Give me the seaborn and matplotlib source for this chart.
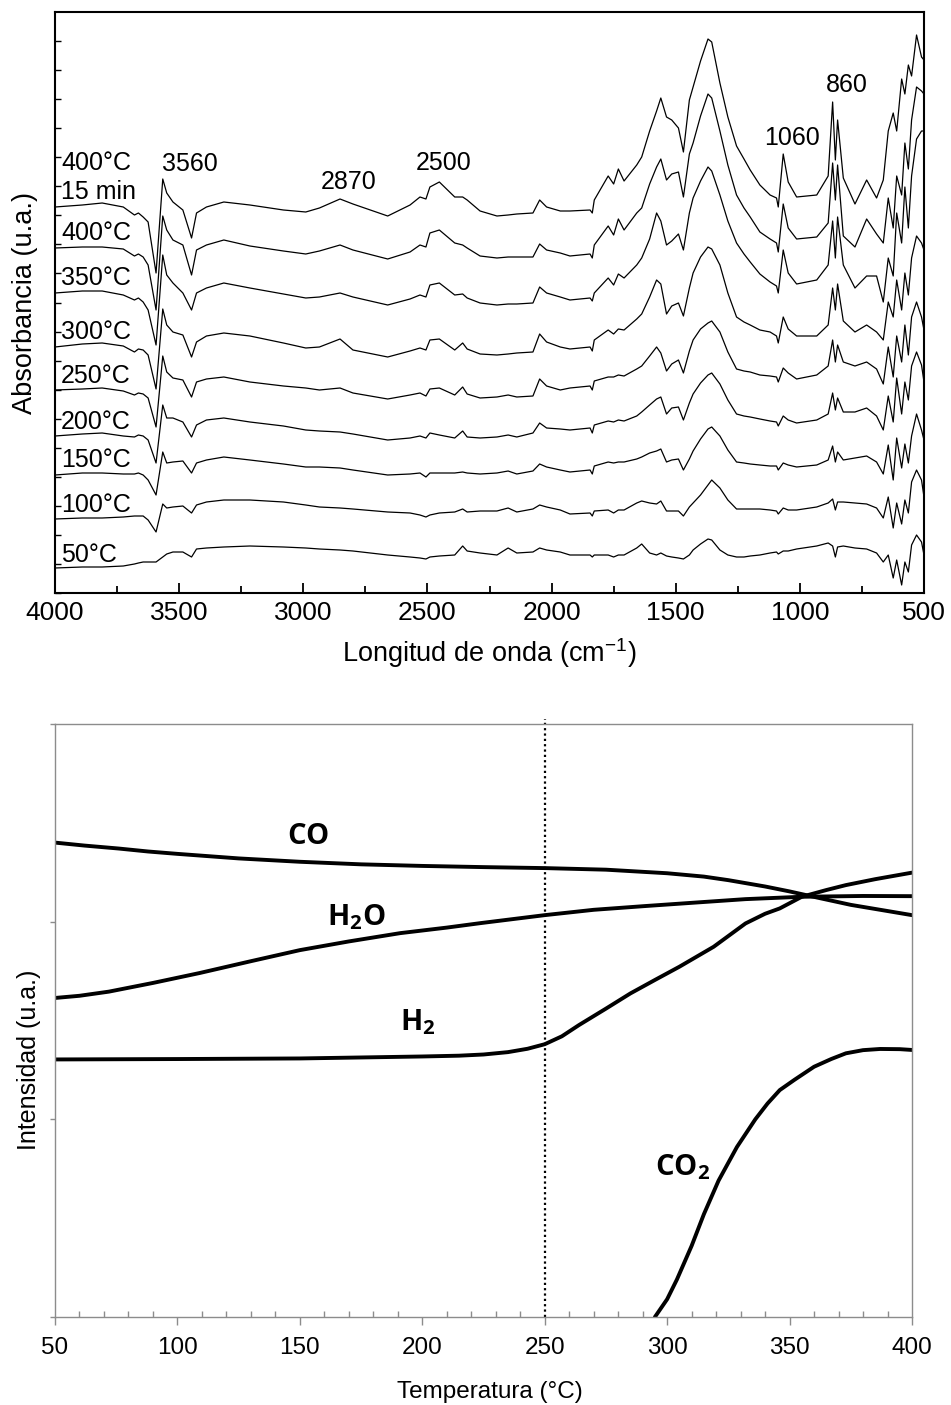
import numpy as np
import pandas as pd
import matplotlib
matplotlib.use("Agg")
import matplotlib.pyplot as plt
from matplotlib.ticker import MultipleLocator
import seaborn as sns

# ---------------- data: top panel (DRIFT spectra, stacked, u.a.) ----------------
WAVENUMBER = [4000, 3890, 3810, 3725, 3680, 3664, 3645, 3625, 3593, 3566,
              3550, 3525, 3485, 3450, 3430, 3390, 3320, 3215, 3080, 2990,
              2935, 2852, 2800, 2660, 2570, 2530, 2506, 2490, 2452, 2390,
              2358, 2340, 2288, 2220, 2175, 2140, 2075, 2048, 2020, 1965,
              1926, 1845, 1836, 1828, 1772, 1750, 1731, 1708, 1657, 1637,
              1605, 1577, 1560, 1537, 1516, 1489, 1469, 1445, 1430, 1400,
              1370, 1355, 1322, 1290, 1255, 1225, 1200, 1161, 1120, 1094,
              1087, 1067, 1047, 1013, 932, 886, 868, 857, 848, 825,
              778, 731, 691, 664, 644, 624, 610, 590, 577, 563,
              550, 530, 510, 500]

SPEC_400_15MIN = [386, 388, 390, 386, 378, 380, 376, 371, 320, 414,
                  400, 391, 383, 355, 380, 386, 391, 388, 383, 381,
                  385, 394, 389, 377, 388, 396, 394, 406, 411, 396,
                  396, 393, 382, 377, 378, 379, 380, 393, 386, 382,
                  382, 383, 380, 393, 417, 409, 424, 412, 428, 436,
                  462, 482, 495, 476, 473, 465, 441, 493, 506, 532,
                  554, 551, 510, 476, 447, 434, 423, 408, 398, 395,
                  386, 439, 411, 396, 398, 417, 491, 433, 473, 415,
                  389, 413, 395, 413, 462, 480, 462, 514, 499, 528,
                  517, 558, 536, 533]
SPEC_400 = [345, 346, 346, 344, 337, 339, 336, 328, 283, 377,
            363, 353, 348, 318, 343, 348, 353, 347, 342, 339,
            342, 348, 343, 334, 341, 348, 346, 360, 363, 350,
            348, 345, 337, 335, 336, 336, 336, 349, 343, 340,
            337, 339, 335, 348, 367, 358, 374, 363, 380, 385,
            409, 426, 434, 413, 419, 421, 396, 439, 450, 477,
            499, 495, 462, 428, 398, 385, 376, 361, 354, 350,
            341, 389, 365, 354, 356, 370, 430, 393, 428, 357,
            346, 374, 359, 350, 395, 365, 417, 398, 450, 424,
            473, 506, 502, 499]
SPEC_350 = [300, 302, 302, 298, 293, 295, 291, 283, 248, 338,
            318, 310, 300, 283, 300, 305, 310, 305, 299, 295,
            296, 300, 296, 288, 294, 298, 296, 308, 310, 298,
            299, 295, 290, 288, 289, 289, 290, 306, 300, 296,
            293, 295, 292, 300, 315, 308, 319, 315, 328, 335,
            354, 380, 372, 348, 352, 359, 343, 380, 395, 412,
            426, 422, 398, 372, 350, 339, 331, 319, 311, 307,
            300, 343, 320, 309, 313, 328, 372, 335, 376, 328,
            305, 317, 317, 291, 335, 317, 380, 350, 406, 365,
            417, 454, 462, 462]
SPEC_300 = [246, 249, 250, 247, 241, 244, 243, 238, 204, 284,
            268, 261, 258, 236, 251, 257, 260, 257, 250, 245,
            246, 254, 243, 236, 242, 245, 243, 253, 254, 243,
            250, 244, 239, 238, 239, 240, 241, 259, 251, 246,
            244, 246, 242, 253, 263, 259, 264, 263, 274, 279,
            296, 313, 309, 279, 287, 290, 277, 305, 320, 336,
            346, 344, 328, 300, 276, 271, 268, 263, 261, 257,
            250, 276, 264, 257, 257, 268, 305, 283, 309, 272,
            261, 268, 261, 253, 291, 276, 313, 283, 320, 298,
            335, 357, 350, 343]
SPEC_250 = [203, 204, 205, 202, 198, 200, 199, 195, 166, 237,
            221, 215, 213, 196, 211, 214, 216, 211, 207, 205,
            203, 205, 200, 194, 198, 200, 197, 204, 205, 198,
            206, 199, 195, 196, 198, 196, 197, 214, 207, 203,
            205, 207, 203, 212, 216, 216, 218, 217, 224, 227,
            237, 246, 240, 222, 229, 233, 220, 242, 253, 264,
            270, 272, 261, 241, 224, 222, 221, 218, 217, 216,
            211, 225, 220, 214, 218, 227, 253, 231, 248, 231,
            227, 231, 224, 209, 246, 216, 257, 231, 268, 238,
            276, 291, 276, 263]
SPEC_200 = [157, 159, 160, 157, 156, 158, 157, 153, 130, 188,
            175, 175, 171, 156, 168, 173, 175, 171, 167, 163,
            162, 161, 159, 153, 155, 157, 155, 160, 158, 155,
            162, 156, 155, 156, 158, 156, 160, 170, 165, 164,
            163, 165, 160, 168, 172, 171, 173, 172, 177, 181,
            188, 194, 196, 179, 185, 186, 173, 190, 199, 210,
            218, 220, 209, 193, 179, 177, 176, 174, 172, 171,
            167, 177, 173, 170, 173, 179, 200, 183, 195, 181,
            181, 185, 177, 163, 197, 171, 215, 179, 211, 193,
            227, 241, 228, 211]
SPEC_150 = [118, 120, 120, 119, 119, 120, 118, 113, 98, 141,
            130, 131, 132, 120, 130, 133, 136, 133, 129, 126,
            126, 125, 123, 118, 119, 120, 116, 120, 120, 120,
            121, 120, 119, 120, 122, 119, 122, 129, 126, 123,
            121, 123, 119, 127, 131, 130, 131, 131, 134, 136,
            140, 142, 144, 131, 133, 134, 123, 134, 142, 154,
            164, 166, 157, 143, 131, 130, 129, 128, 127, 127,
            123, 130, 128, 126, 128, 133, 147, 131, 141, 133,
            135, 137, 131, 119, 148, 113, 155, 125, 149, 130,
            157, 179, 163, 153]
SPEC_100 = [74, 75, 75, 76, 77, 77, 77, 73, 61, 89,
            85, 86, 87, 80, 88, 91, 93, 93, 91, 88,
            86, 85, 84, 81, 80, 78, 76, 78, 80, 81,
            84, 81, 82, 82, 85, 81, 84, 88, 86, 83,
            79, 80, 77, 82, 83, 80, 83, 83, 90, 92,
            90, 89, 92, 82, 82, 82, 77, 86, 90, 98,
            108, 113, 105, 93, 84, 84, 84, 84, 83, 82,
            79, 85, 83, 83, 86, 90, 94, 83, 91, 91,
            90, 89, 85, 75, 96, 65, 90, 69, 93, 80,
            111, 123, 113, 96]
SPEC_50 = [25, 26, 26, 27, 29, 30, 31, 31, 31, 36,
           39, 41, 41, 36, 44, 45, 46, 47, 46, 45,
           44, 43, 42, 38, 36, 35, 34, 36, 37, 38,
           47, 42, 40, 38, 45, 40, 41, 45, 43, 41,
           38, 38, 36, 38, 38, 36, 38, 38, 45, 49,
           40, 38, 40, 37, 36, 35, 34, 38, 43, 49,
           54, 53, 43, 38, 36, 36, 37, 38, 40, 41,
           39, 42, 42, 44, 47, 50, 47, 36, 46, 47,
           45, 44, 40, 31, 38, 15, 33, 8, 31, 21,
           48, 58, 51, 38]

SPECTRA = [SPEC_400_15MIN, SPEC_400, SPEC_350, SPEC_300, SPEC_250,
           SPEC_200, SPEC_150, SPEC_100, SPEC_50]
SPECTRA_NAMES = ["400°C 15 min", "400°C", "350°C", "300°C", "250°C",
                 "200°C", "150°C", "100°C", "50°C"]
for s in SPECTRA:
    assert len(s) == len(WAVENUMBER)

SPEC_LABELS = ["400°C", "15 min", "400°C", "350°C", "300°C", "250°C",
               "200°C", "150°C", "100°C", "50°C"]
SPEC_LABEL_Y = [430, 401, 360, 315, 261, 217, 171, 133, 88, 38]
BAND_LABELS = ["3560", "2870", "2500", "1060", "860"]
BAND_X = [3456, 2819, 2436, 1031, 812]
BAND_Y = [429, 411, 430, 455, 508]

# ---------------- data: bottom panel (mass spec signals, u.a.) ----------------
CO_T = [50, 62, 76, 88, 100, 125, 150, 175, 200, 225, 250, 275, 300, 315,
        325, 340, 350, 362, 375, 388, 400]
CO_I = [2.40, 2.385, 2.37, 2.355, 2.343, 2.32, 2.303, 2.29, 2.282, 2.276,
        2.271, 2.263, 2.245, 2.228, 2.21, 2.178, 2.153, 2.12, 2.085, 2.058, 2.033]
H2O_T = [50, 60, 72, 90, 109, 130, 150, 170, 191, 210, 224, 250, 270, 291,
         312, 332, 355, 380, 400]
H2O_I = [1.614, 1.625, 1.646, 1.69, 1.74, 1.80, 1.856, 1.90, 1.942, 1.97,
         1.993, 2.033, 2.06, 2.079, 2.097, 2.114, 2.126, 2.13, 2.129]
H2_T = [50, 100, 150, 200, 215, 225, 235, 243, 250, 257, 264, 275, 285, 295,
        305, 319, 332, 340, 346, 355, 365, 373, 385, 400]
H2_I = [1.303, 1.305, 1.308, 1.318, 1.322, 1.328, 1.34, 1.357, 1.38, 1.42,
        1.477, 1.56, 1.637, 1.705, 1.772, 1.873, 1.991, 2.04, 2.067, 2.126,
        2.16, 2.185, 2.215, 2.248]
CO2_T = [295, 300, 304, 310, 315, 321, 328.5, 336, 341, 346, 352, 360, 367,
         373, 380, 387, 395, 400]
CO2_I = [0.0, 0.09, 0.19, 0.36, 0.52, 0.69, 0.86, 1.00, 1.08, 1.148, 1.20,
         1.266, 1.305, 1.334, 1.35, 1.356, 1.355, 1.351]
REACTION_T = 250

GAS_LABELS = [r"$\mathbf{CO}$", r"$\mathbf{H_2O}$", r"$\mathbf{H_2}$", r"$\mathbf{CO_2}$"]
GAS_LABEL_T = [144.6, 161, 191, 295]
GAS_LABEL_I = [2.393, 1.983, 1.452, 0.718]

# ---------------- style ----------------
sns.set_style("ticks")
plt.rcParams["font.family"] = ["Liberation Sans", "DejaVu Sans"]
plt.rcParams["mathtext.fontset"] = "custom"
plt.rcParams["mathtext.rm"] = "Liberation Sans"
plt.rcParams["mathtext.it"] = "Liberation Sans:italic"
plt.rcParams["mathtext.bf"] = "Open Sans:bold"
plt.rcParams["text.color"] = "black"
plt.rcParams["axes.labelcolor"] = "black"
plt.rcParams["xtick.color"] = "black"
plt.rcParams["ytick.color"] = "black"

W, H = 951, 1405
fig = plt.figure(figsize=(W / 100, H / 100), dpi=100)
ax1 = fig.add_axes([55 / W, 1 - 593 / H, 869 / W, 581 / H])
ax2 = fig.add_axes([55 / W, 1 - 1317 / H, 857 / W, 593 / H])

# ---------------- top panel ----------------
rows = []
for name, vals in zip(SPECTRA_NAMES, SPECTRA):
    for w, a in zip(WAVENUMBER, vals):
        rows.append({"spectrum": name, "wavenumber": w, "absorbance": a})
df = pd.DataFrame(rows)
sns.lineplot(data=df, x="wavenumber", y="absorbance", units="spectrum",
             estimator=None, sort=False, color="black", lw=0.9, ax=ax1,
             legend=False)
ax1.set_xlim(4000, 500)
ax1.set_ylim(0, 581)
ax1.set_xticks(np.arange(4000, 499, -500))
ax1.set_xticklabels([str(v) for v in np.arange(4000, 499, -500)])
ax1.xaxis.set_minor_locator(MultipleLocator(250))
ax1.set_yticks(np.arange(0, 580, 29.05))
ax1.set_yticklabels([])
ax1.tick_params(axis="x", which="major", direction="in", length=7, width=1.3,
                labelsize=19, pad=6, colors="black")
ax1.tick_params(axis="x", which="minor", direction="in", length=5, width=1.3)
ax1.tick_params(axis="y", which="major", direction="in", length=4, width=1.0)
for sp in ax1.spines.values():
    sp.set_linewidth(1.5)
    sp.set_color("black")
ax1.set_xlabel("")
ax1.set_ylabel("")
for t, y in zip(SPEC_LABELS, SPEC_LABEL_Y):
    ax1.text(3976, y, t, ha="left", va="center", fontsize=18, color="black")
for t, x, y in zip(BAND_LABELS, BAND_X, BAND_Y):
    ax1.text(x, y, t, ha="center", va="center", fontsize=18, color="black")

fig.text(25 / W, 1 - 302.5 / H, "Absorbancia (u.a.)", rotation=90,
         ha="center", va="center", fontsize=19.5, color="black")
fig.text(489.5 / W, 1 - 653 / H, r"Longitud de onda (cm$^{-1}$)",
         ha="center", va="center", fontsize=19.5, color="black")

# ---------------- bottom panel ----------------
for T, I in [(CO_T, CO_I), (H2O_T, H2O_I), (H2_T, H2_I), (CO2_T, CO2_I)]:
    sns.lineplot(x=T, y=I, color="black", lw=2.8, ax=ax2, sort=False,
                 estimator=None)
ax2.axvline(REACTION_T, ymin=0, ymax=1.008, color="black", lw=1.6,
            ls=(0, (1, 1.4)), clip_on=False)
ax2.set_xlim(50, 400)
ax2.set_ylim(0, 3)
ax2.set_xticks(np.arange(50, 401, 50))
ax2.xaxis.set_minor_locator(MultipleLocator(10))
ax2.set_yticks([0, 1, 2, 3])
ax2.set_yticklabels([])
gray = "#8c8c8c"
for sp in ax2.spines.values():
    sp.set_linewidth(1.0)
    sp.set_color(gray)
ax2.tick_params(axis="x", which="major", direction="out", length=5.5,
                width=1.0, color=gray, labelsize=17.5, pad=9,
                labelcolor="black")
ax2.tick_params(axis="x", which="minor", direction="in", length=4,
                width=1.0, color=gray)
ax2.tick_params(axis="y", which="major", direction="out", length=3.5,
                width=1.0, color=gray)
ax2.set_xlabel("")
ax2.set_ylabel("")
for t, x, y in zip(GAS_LABELS, GAS_LABEL_T, GAS_LABEL_I):
    ax2.text(x, y, t, ha="left", va="baseline", fontsize=21, color="black")

fig.text(29 / W, 1 - 1060 / H, "Intensidad (u.a.)", rotation=90,
         ha="center", va="center", fontsize=18, color="black")
fig.text(490 / W, 1 - 1392 / H, "Temperatura (°C)",
         ha="center", va="center", fontsize=17.5, color="black")

fig.savefig("out.png", dpi=100)
